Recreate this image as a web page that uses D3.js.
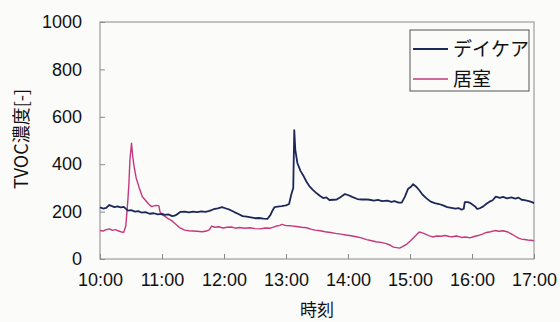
<!DOCTYPE html>
<html><head><meta charset="utf-8">
<script src="https://cdn.jsdelivr.net/npm/d3@7"></script>
<style>body{margin:0;background:#fbfbfa;} svg{display:block;}</style>
</head><body>
<svg id="c" width="560" height="322"></svg>
<script>
// minutes after 10:00
const dayMin = [0,3,6,9,11,14,17,20,23,27,30,34,37,40,44,48,52,56,60,63,66,70,73,75,78,82,86,90,94,98,102,106,110,114,118,122,126,130,134,138,142,146,150,154,158,162,165,167,169,172,176,180,183,185,187,188,189,191,194,197,200,203,206,210,213,216,219,222,226,229,233,237,240,244,249,253,257,261,265,269,273,278,282,285,289,292,295,298,301,303,306,309,312,316,320,324,328,332,336,340,344,347,350,352,353,356,358,361,363,365,368,371,374,377,380,383,387,390,394,398,402,405,408,411,415,418,420];
const dayVal = [218,213,216,228,224,219,222,218,220,204,206,200,202,196,198,191,193,188,190,186,188,181,184,190,199,200,197,200,198,201,199,203,210,214,219,213,207,198,190,181,179,176,172,173,170,169,186,205,219,221,223,226,232,270,300,544,460,405,372,350,325,305,292,276,266,257,260,249,250,251,262,274,270,262,253,251,252,250,246,249,244,246,241,244,238,238,262,295,305,316,305,290,272,256,242,236,232,226,219,216,213,215,208,212,240,240,237,228,222,211,215,222,233,242,248,263,258,262,256,260,255,259,250,248,244,240,236];
const roomMin = [0,3,6,9,12,15,18,21,23,25,27,28,29,30.5,31.5,33,35,38,41,44,47,50,52,55,57,58,60,63,66,69,72,75,78,82,86,90,94,99,103,106,108,111,115,119,123,127,131,135,140,145,150,155,160,165,170,174,176,180,185,190,195,200,204,208,213,218,223,228,233,238,243,248,253,258,262,267,272,277,281,284,287,290,294,297,300,304,307,309,312,315,318,322,326,330,334,338,341,345,350,354,358,362,366,370,374,378,382,386,390,394,398,402,405,408,411,414,417,420];
const roomVal = [120,118,124,127,121,124,118,114,113,140,250,320,420,489,440,390,342,300,263,248,232,221,224,226,224,200,186,180,170,163,152,140,130,122,119,118,117,115,118,124,139,134,136,131,134,135,130,133,130,132,128,127,131,130,138,142,146,141,140,137,134,132,126,122,119,115,112,108,105,101,98,94,89,82,78,73,70,65,58,50,48,46,55,63,75,92,105,114,110,105,99,93,97,96,99,95,94,97,91,93,89,95,99,105,112,115,120,117,119,115,106,96,88,84,82,80,79,77];
const xTicks = [0,60,120,180,240,300,360,420];
const xTickLabels = ["10:00","11:00","12:00","13:00","14:00","15:00","16:00","17:00"];
const yTicks = [0,200,400,600,800,1000];
const seriesNames = ["デイケア","居室"];
const colors = ["#1c2858","#c4387c"];

const svg = d3.select("#c");
const L=100,R=534,T=22,B=259;
const x = d3.scaleLinear().domain([0,420]).range([L,R]);
const y = d3.scaleLinear().domain([0,1000]).range([B,T]);
const font = "'Liberation Sans', Arial, sans-serif";
const cjk = "'Noto Sans CJK JP', sans-serif";

svg.append("rect").attr("x",L).attr("y",T).attr("width",R-L).attr("height",B-T)
  .attr("fill","none").attr("stroke","#8a8a8a").attr("stroke-width",1);

const xa = svg.append("g").attr("transform",`translate(0,${B})`)
  .call(d3.axisBottom(x).tickValues(xTicks).tickSize(-5).tickPadding(14).tickFormat((d,i)=>xTickLabels[i]));
xa.select(".domain").remove();
xa.selectAll("line").attr("stroke","#8a8a8a");
xa.selectAll("text").attr("font-family",font).attr("font-size",18).attr("fill","#111");

const ya = svg.append("g").attr("transform",`translate(${L},0)`)
  .call(d3.axisLeft(y).tickValues(yTicks).tickSize(-5).tickPadding(18).tickFormat(d3.format("d")));
ya.select(".domain").remove();
ya.selectAll("line").attr("stroke","#8a8a8a");
ya.selectAll("text").attr("font-family",font).attr("font-size",18).attr("fill","#111");

const line = d3.line().x(d=>x(d[0])).y(d=>y(d[1]));
const sets = [d3.zip(dayMin,dayVal), d3.zip(roomMin,roomVal)];
[1,0].forEach(i=>{
  svg.append("path").datum(sets[i]).attr("d",line).attr("fill","none")
    .attr("stroke",colors[i]).attr("stroke-width",i===0?1.8:1.4).attr("stroke-linejoin","round");
});

const lg = svg.append("g");
lg.append("rect").attr("x",410).attr("y",30).attr("width",119).attr("height",61)
  .attr("fill","#fbfbfa").attr("stroke","#555").attr("stroke-width",1);
seriesNames.forEach((n,i)=>{
  const yy = 49 + i*30;
  lg.append("line").attr("x1",413).attr("x2",448).attr("y1",yy).attr("y2",yy)
    .attr("stroke",colors[i]).attr("stroke-width",i===0?1.8:1.4);
  lg.append("text").attr("x",453).attr("y",yy).attr("dy","0.36em")
    .attr("font-family",cjk).attr("font-size",19).attr("fill","#111").text(n);
});

svg.append("text").attr("x",317).attr("y",310).attr("dy","0.36em").attr("text-anchor","middle")
  .attr("font-family",cjk).attr("font-size",17).attr("fill","#111").text("時刻");
svg.append("text").attr("transform","translate(22,139) rotate(-90)").attr("dy","0.36em")
  .attr("text-anchor","middle").attr("font-family",cjk).attr("font-size",18).attr("fill","#111").text("TVOC濃度[-]");
</script>
</body></html>
